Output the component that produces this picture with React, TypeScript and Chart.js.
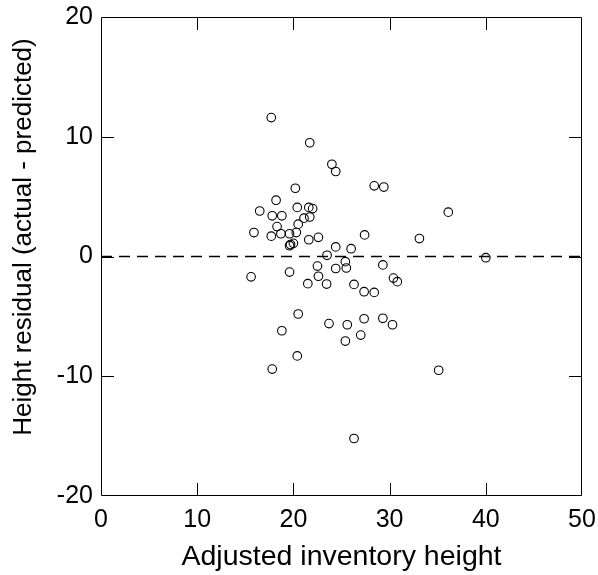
import React, { useEffect, useRef } from "react";
import { Chart, registerables } from "chart.js";

Chart.register(...registerables);

const inventoryHeight: number[] = [
  17.7, 21.7, 24.0, 24.4, 20.2, 28.4, 29.4, 18.2, 16.5, 20.4, 21.6, 22.0, 17.8, 18.8, 21.1, 21.7,
  18.3, 20.5, 15.9, 17.7, 18.7, 19.6, 20.3, 19.7, 20.0, 19.6, 21.6, 22.6, 27.4, 33.1, 36.1, 24.4,
  26.0, 23.5, 40.0,
  25.4, 29.3, 15.6, 19.6, 22.5, 24.4, 25.5, 22.6, 21.5, 23.45, 26.3, 27.35, 28.4, 30.4, 30.8,
  20.5, 18.8, 23.7, 25.6, 27.35, 29.3, 30.3, 25.4, 27.0, 20.4, 17.8, 35.1, 26.3,
];
const heightResidual: number[] = [
  11.6, 9.5, 7.7, 7.1, 5.7, 5.9, 5.8, 4.7, 3.8, 4.1, 4.1, 4.0, 3.4, 3.4, 3.2, 3.3,
  2.5, 2.7, 2.0, 1.7, 1.9, 1.9, 2.0, 1.0, 1.1, 0.9, 1.4, 1.6, 1.8, 1.5, 3.7, 0.8,
  0.65, 0.1, -0.1,
  -0.43, -0.7, -1.7, -1.3, -0.8, -1.0, -0.96, -1.65, -2.27, -2.3, -2.33, -2.94, -3.0, -1.8, -2.1,
  -4.8, -6.2, -5.6, -5.7, -5.2, -5.16, -5.7, -7.06, -6.56, -8.3, -9.4, -9.5, -15.2,
];
const zeroLineX: number[] = [0, 50];
const zeroLineY: number[] = [0, 0];
const xTicks: number[] = [0, 10, 20, 30, 40, 50];
const yTicks: number[] = [-20, -10, 0, 10, 20];
const xTitle = "Adjusted inventory height";
const yTitle = "Height residual (actual - predicted)";

const FONT = "'Liberation Sans', Arial, Helvetica, sans-serif";

const framePlugin = {
  id: "frameTicks",
  afterDatasetsDraw(chart: any) {
    const { ctx, chartArea, scales } = chart;
    const { left, right, top, bottom } = chartArea;
    const tl = 13;
    ctx.save();
    ctx.strokeStyle = "#000";
    ctx.lineWidth = 1;
    ctx.beginPath();
    ctx.rect(left + 0.5, top + 0.5, right - left - 1, bottom - top - 1);
    for (const v of xTicks) {
      if (v === xTicks[0] || v === xTicks[xTicks.length - 1]) continue;
      const px = Math.round(scales.x.getPixelForValue(v)) + 0.5;
      ctx.moveTo(px, bottom);
      ctx.lineTo(px, bottom - tl);
      ctx.moveTo(px, top);
      ctx.lineTo(px, top + tl);
    }
    for (const v of yTicks) {
      if (v === yTicks[0] || v === yTicks[yTicks.length - 1]) continue;
      const py = Math.round(scales.y.getPixelForValue(v)) + 0.5;
      ctx.moveTo(left, py);
      ctx.lineTo(left + tl, py);
      ctx.moveTo(right, py);
      ctx.lineTo(right - tl, py);
    }
    ctx.stroke();

    ctx.fillStyle = "#000";
    ctx.textAlign = "center";
    ctx.textBaseline = "middle";
    ctx.font = `28.5px ${FONT}`;
    ctx.fillText(xTitle, (left + right) / 2, 557);
    ctx.translate(24, 237);
    ctx.rotate(-Math.PI / 2);
    ctx.font = `26px ${FONT}`;
    ctx.fillText(yTitle, 0, 0);
    ctx.restore();
  },
};

export default function App() {
  const ref = useRef<HTMLCanvasElement | null>(null);
  useEffect(() => {
    if (!ref.current) return;
    const chart = new Chart(ref.current, {
      type: "scatter",
      data: {
        datasets: [
          {
            type: "line",
            data: zeroLineX.map((x, i) => ({ x, y: zeroLineY[i] })),
            borderColor: "#000",
            borderWidth: 1.5,
            borderDash: [11, 7],
            pointRadius: 0,
            fill: false,
          } as any,
          {
            data: inventoryHeight.map((x, i) => ({ x, y: heightResidual[i] })),
            pointStyle: "circle",
            pointRadius: 4.3,
            pointBorderWidth: 1.1,
            pointBorderColor: "#000",
            pointBackgroundColor: "rgba(0,0,0,0)",
            borderColor: "#000",
            backgroundColor: "rgba(0,0,0,0)",
          },
        ],
      },
      options: {
        responsive: false,
        animation: false,
        events: [],
        layout: { padding: { top: 17, right: 16, left: 0, bottom: 0 } },
        plugins: { legend: { display: false }, tooltip: { enabled: false } },
        scales: {
          x: {
            type: "linear",
            min: 0,
            max: 50,
            afterBuildTicks: (s: any) => {
              s.ticks = xTicks.map((v) => ({ value: v }));
            },
            afterFit: (s: any) => {
              s.height = 79;
              s.paddingLeft = 0;
              s.paddingRight = 0;
            },
            grid: { display: false, drawTicks: false },
            border: { display: false },
            ticks: {
              color: "#000",
              padding: 9,
              maxRotation: 0,
              font: { family: FONT, size: 25 },
            },
            title: { display: false },
          },
          y: {
            type: "linear",
            min: -20,
            max: 20,
            afterBuildTicks: (s: any) => {
              s.ticks = yTicks.map((v) => ({ value: v }));
            },
            afterFit: (s: any) => {
              s.width = 101;
              s.paddingTop = 0;
              s.paddingBottom = 0;
            },
            grid: { display: false, drawTicks: false },
            border: { display: false },
            ticks: {
              color: "#000",
              padding: 8,
              font: { family: FONT, size: 25 },
            },
            title: { display: false },
          },
        },
      },
      plugins: [framePlugin],
    } as any);
    return () => chart.destroy();
  }, []);
  return (
    <div style={{ position: "fixed", left: 0, top: 0, width: 598, height: 575, background: "#fff" }}>
      <canvas ref={ref} width={598} height={575} style={{ width: 598, height: 575, display: "block" }} />
    </div>
  );
}
